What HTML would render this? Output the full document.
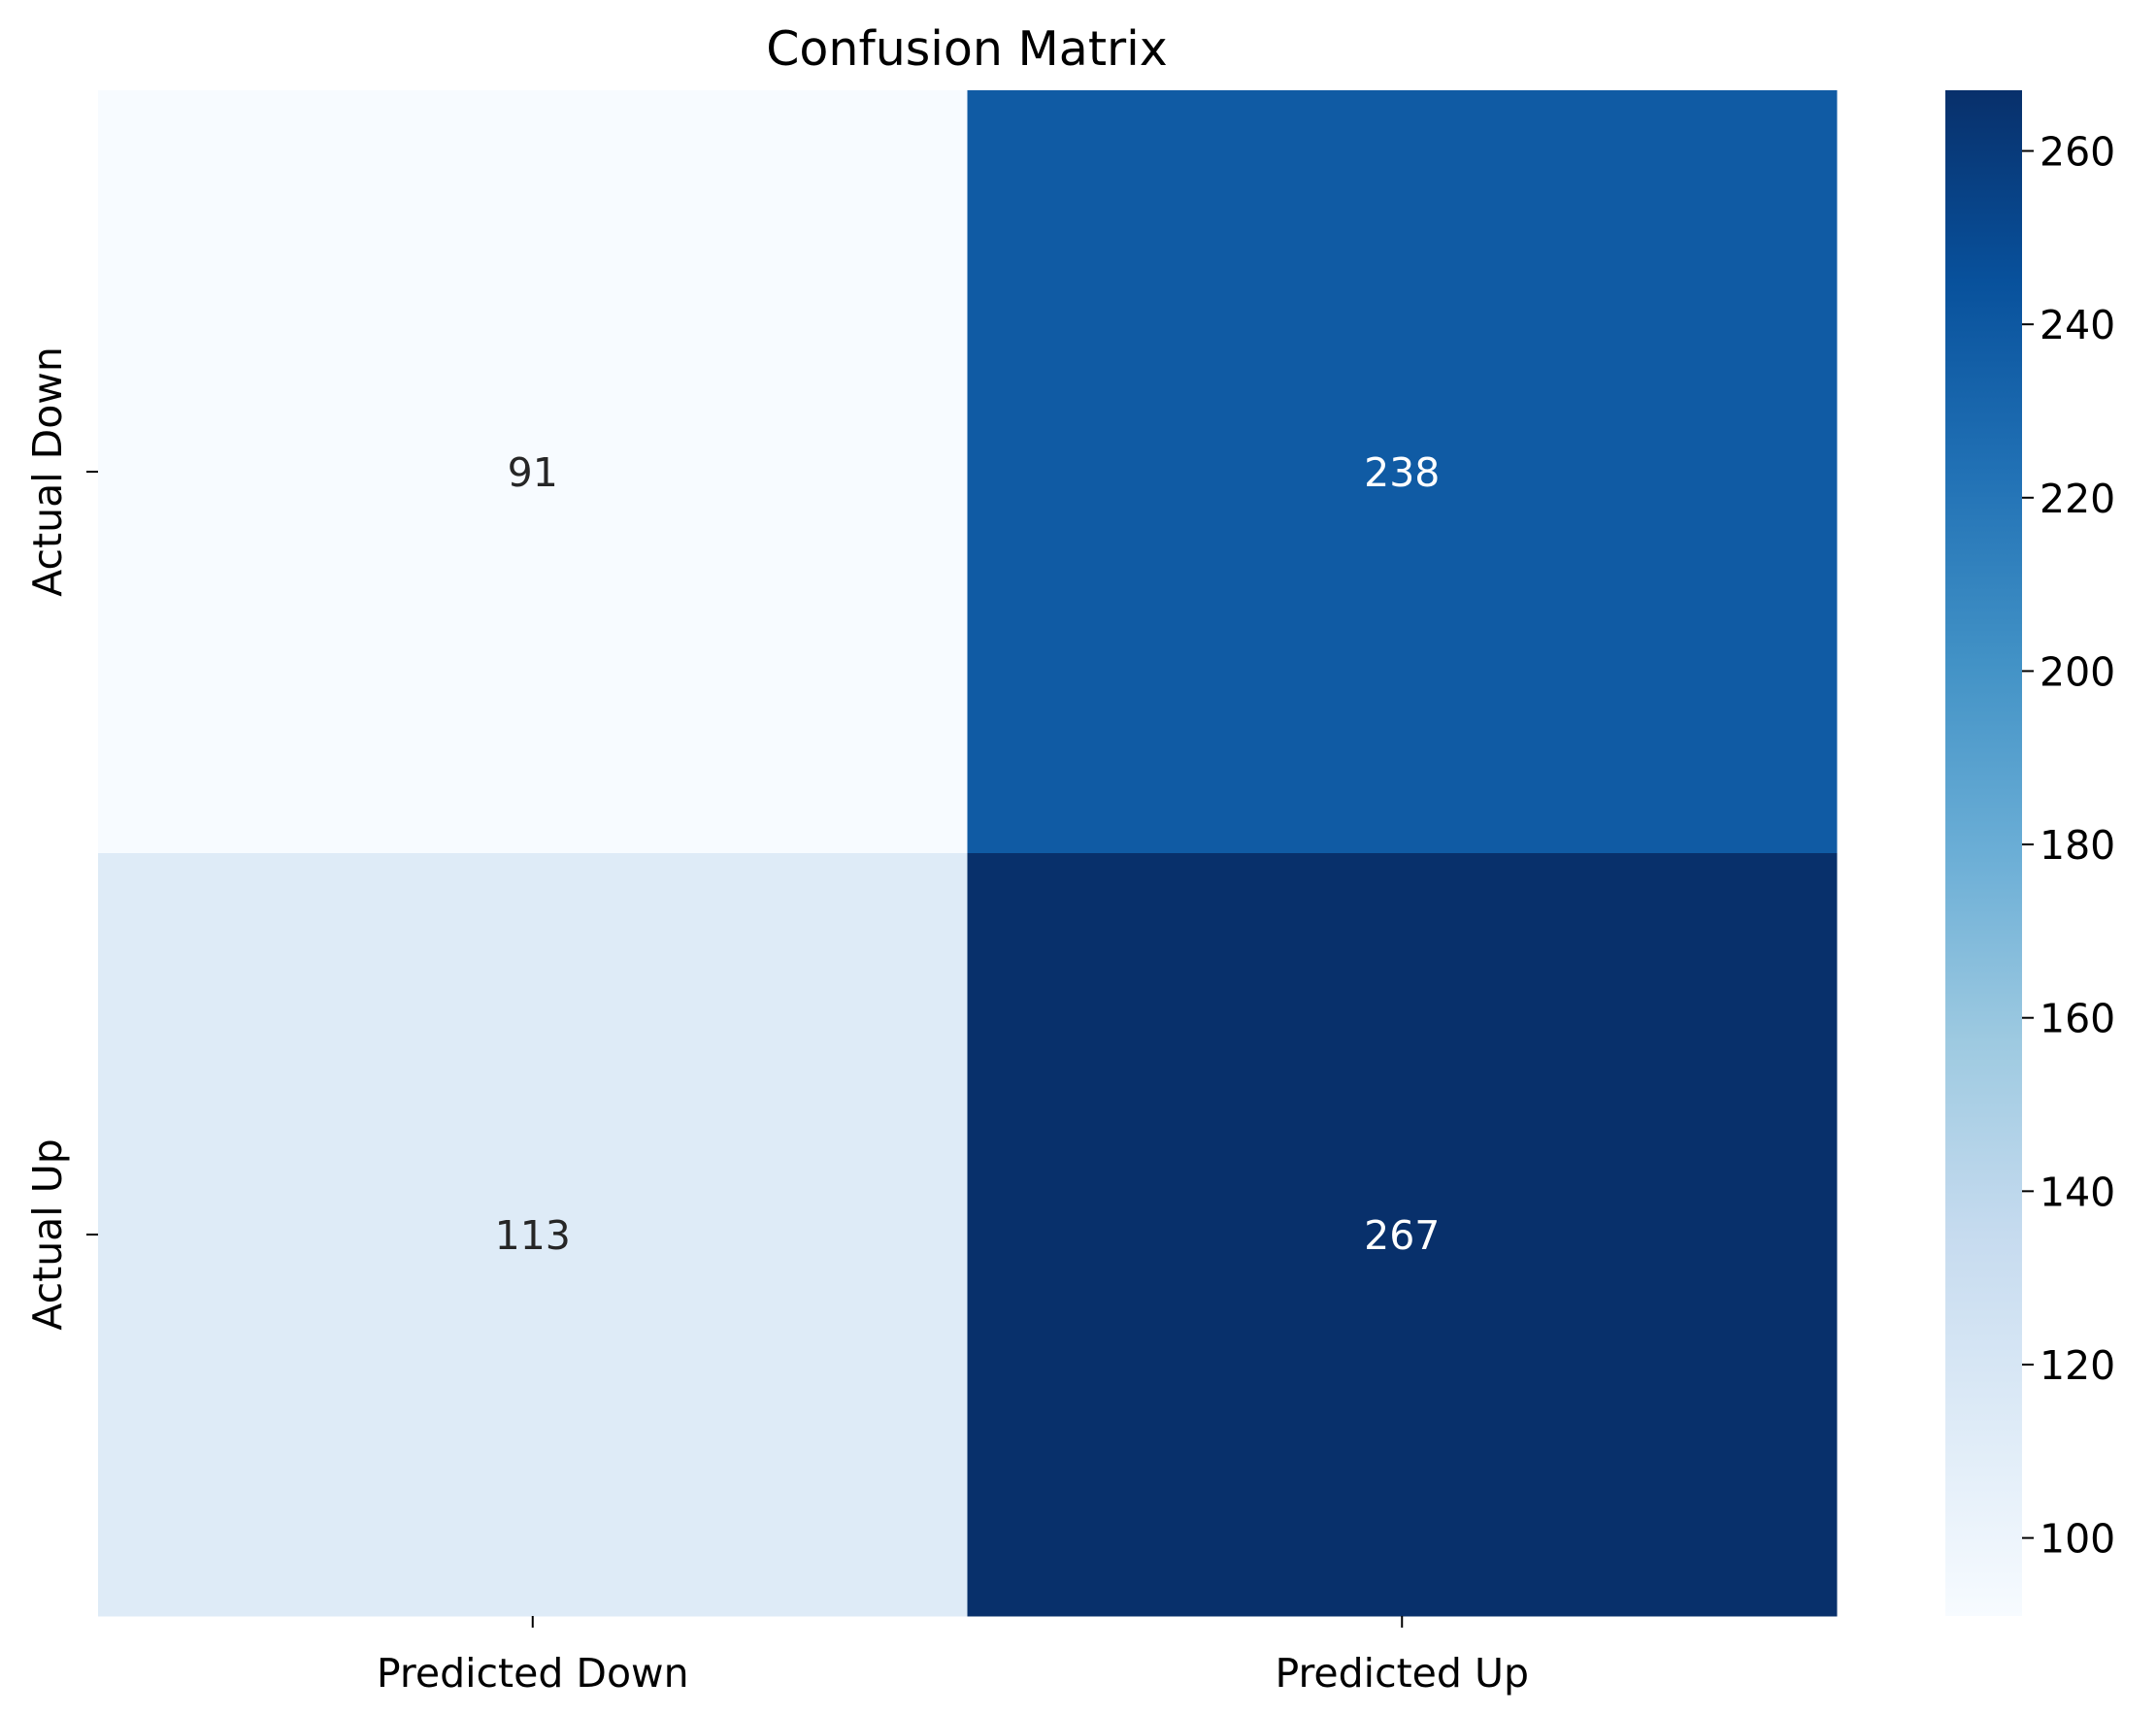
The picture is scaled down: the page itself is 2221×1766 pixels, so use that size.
<!DOCTYPE html>
<html><head><meta charset="utf-8"><style>
html,body{margin:0;padding:0;background:#fff;}
svg{display:block;font-family:"DejaVu Sans","Liberation Sans",sans-serif;}
</style></head><body>
<svg id="chart" width="2221" height="1766" viewBox="0 0 2221 1766" xmlns="http://www.w3.org/2000/svg">
<rect width="2221" height="1766" fill="#fff"/>
<text x="996" y="67" font-size="49" text-anchor="middle" fill="#000">Confusion Matrix</text>
<g id="cells"></g><g id="xaxis"></g><g id="yaxis"></g><g id="cbar"></g>
</svg>
<script>
const rowLabels = ["Actual Down", "Actual Up"];
const colLabels = ["Predicted Down", "Predicted Up"];
const values = [[91, 238], [113, 267]];
const cbarTicks = [100, 120, 140, 160, 180, 200, 220, 240, 260];

const NS = "http://www.w3.org/2000/svg";
const L = 101, R = 1892, T = 93, B = 1665;
const CBL = 2004, CBR = 2083;
const FS = 41;
const flat = values.flat();
const vmin = Math.min(...flat), vmax = Math.max(...flat);
const stops = ["#f7fbff","#deebf7","#c6dbef","#9ecae1","#6baed6","#4292c6","#2171b5","#08519c","#08306b"];
function hex(h){return [1,3,5].map(i=>parseInt(h.substr(i,2),16));}
function cmap(v){
  let t=(v-vmin)/(vmax-vmin); t=Math.max(0,Math.min(1,t));
  const p=t*(stops.length-1), i=Math.min(Math.floor(p),stops.length-2), f=p-i;
  const a=hex(stops[i]), b=hex(stops[i+1]);
  return "rgb("+a.map((x,k)=>Math.round(x+(b[k]-x)*f)).join(",")+")";
}
const cw=(R-L)/colLabels.length, ch=(B-T)/rowLabels.length;
const xPos=j=>L+j*cw, yPos=i=>T+i*ch;
const cbY=v=>B-(v-vmin)/(vmax-vmin)*(B-T);
function mk(tag,attrs,parent,text){const e=document.createElementNS(NS,tag);for(const k in attrs)e.setAttribute(k,attrs[k]);if(text!==undefined)e.textContent=text;parent.appendChild(e);return e;}
const cells=document.getElementById("cells");
values.forEach((row,i)=>row.forEach((v,j)=>{
  const r=mk("rect",{x:xPos(j),y:yPos(i),width:cw+0.5,height:ch+0.5,fill:cmap(v)},cells);
  
  
  const t=(v-vmin)/(vmax-vmin);
  const tx=mk("text",{x:xPos(j)+cw/2,y:yPos(i)+ch/2+15,"font-size":FS,"text-anchor":"middle",fill:t>0.5?"#fff":"#262626"},cells,String(v));
  
  
}));
const xa=document.getElementById("xaxis");
colLabels.forEach((c,j)=>{
  const x=xPos(j)+cw/2;
  mk("line",{x1:x,x2:x,y1:B,y2:B+12,stroke:"#000","stroke-width":2},xa);
  const t=mk("text",{x:x,y:B+73,"font-size":FS,"text-anchor":"middle",fill:"#000"},xa,c);
  
  
});
const ya=document.getElementById("yaxis");
rowLabels.forEach((c,i)=>{
  const y=yPos(i)+ch/2;
  mk("line",{x1:L-12,x2:L,y1:y,y2:y,stroke:"#000","stroke-width":2},ya);
  const t=mk("text",{x:0,y:0,"font-size":FS,"text-anchor":"middle",fill:"#000",transform:"translate(63,"+y+") rotate(-90)"},ya,c);
  
  
});
const cb=document.getElementById("cbar");
const defs=mk("defs",{},cb);
const g=mk("linearGradient",{id:"cbg",x1:0,y1:1,x2:0,y2:0},defs);
stops.forEach((s,k)=>mk("stop",{offset:k/(stops.length-1),"stop-color":s},g));
const cbr=mk("rect",{x:CBL,y:T,width:CBR-CBL,height:B-T,fill:"url(#cbg)"},cb);


cbarTicks.forEach(v=>{
  const y=cbY(v);
  mk("line",{x1:CBR,x2:CBR+12,y1:y,y2:y,stroke:"#000","stroke-width":2},cb);
  const t=mk("text",{x:CBR+18,y:y+15,"font-size":FS,fill:"#000"},cb,String(v));
  
  
});
</script>
</body></html>
